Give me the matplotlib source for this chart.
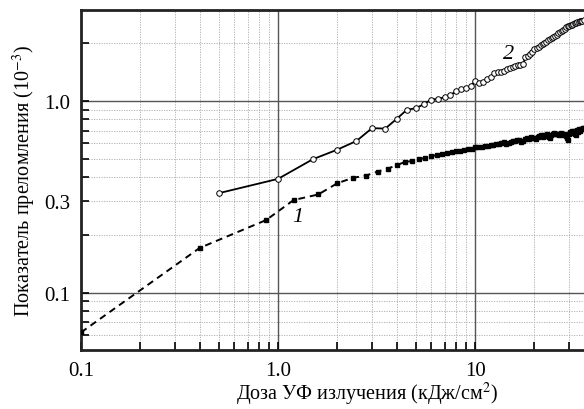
import numpy as np
import matplotlib
matplotlib.use("Agg")
import matplotlib.pyplot as plt

plt.rcParams['font.family'] = ['Liberation Serif', 'DejaVu Serif']
plt.rcParams['mathtext.fontset'] = 'stix'

# кривая 1 (сплошные квадраты, штриховая линия)
doza1 = [0.1, 0.4, 0.87, 1.2, 1.6, 2.0, 2.4, 2.8, 3.2, 3.6, 4.0, 4.4, 4.8, 5.2,
         5.6, 6.0, 6.4, 6.8, 7.2, 7.6, 8.0, 8.4, 8.8, 9.2, 9.6, 10.0, 10.4,
         10.8, 11.2, 11.6, 12.0, 12.4, 12.8, 13.2, 13.6, 14.0, 14.4, 14.8,
         15.2, 15.6, 16.0, 16.4, 16.8, 17.2, 17.6, 18.0, 18.4, 18.8, 19.2,
         19.6, 20.0, 20.4, 20.8, 21.2, 21.6, 22.0, 22.4, 22.8, 23.2, 23.6,
         24.0, 24.4, 24.8, 25.2, 25.6, 26.0, 26.4, 26.8, 27.2, 27.6, 28.0,
         28.4, 28.8, 29.2, 29.6, 30.0, 30.4, 30.8, 31.2, 31.6, 32.0, 32.4,
         32.8, 33.2, 33.6, 34.0, 34.4, 34.8, 35.2, 35.6]
pokaz1 = [0.062, 0.171, 0.239, 0.304, 0.325, 0.372, 0.397, 0.408, 0.428, 0.443,
          0.462, 0.480, 0.486, 0.497, 0.504, 0.513, 0.523, 0.528, 0.532, 0.540,
          0.546, 0.549, 0.553, 0.558, 0.564, 0.572, 0.575, 0.576, 0.580, 0.583,
          0.588, 0.591, 0.594, 0.597, 0.600, 0.608, 0.598, 0.603, 0.612, 0.620,
          0.618, 0.625, 0.628, 0.612, 0.620, 0.632, 0.640, 0.636, 0.645, 0.638,
          0.642, 0.630, 0.648, 0.655, 0.660, 0.650, 0.663, 0.658, 0.668, 0.645,
          0.640, 0.662, 0.672, 0.680, 0.676, 0.668, 0.672, 0.665, 0.678, 0.670,
          0.662, 0.668, 0.655, 0.640, 0.622, 0.672, 0.690, 0.680, 0.700, 0.695,
          0.672, 0.665, 0.705, 0.690, 0.710, 0.700, 0.715, 0.712, 0.718, 0.722]

# кривая 2 (светлые кружки, сплошная линия)
doza2 = [0.5, 1.0, 1.5, 2.0, 2.5, 3.0, 3.5, 4.0, 4.5, 5.0, 5.5, 6.0, 6.5, 7.0,
         7.5, 8.0, 8.5, 9.0, 9.5, 10.0, 10.5, 11.0, 11.5, 12.0, 12.5, 13.0,
         13.5, 14.0, 14.5, 15.0, 15.5, 16.0, 16.5, 17.0, 17.5, 18.0, 18.5,
         19.0, 19.5, 20.0, 20.5, 21.0, 21.5, 22.0, 22.5, 23.0, 23.5, 24.0,
         24.5, 25.0, 25.5, 26.0, 26.5, 27.0, 27.5, 28.0, 28.5, 29.0, 29.5,
         30.0, 30.5, 31.0, 31.5, 32.0, 32.5, 33.0, 33.5, 34.0, 34.5, 35.0, 35.5]
pokaz2 = [0.330, 0.392, 0.496, 0.557, 0.618, 0.721, 0.717, 0.806, 0.898, 0.916,
          0.961, 1.016, 1.024, 1.045, 1.075, 1.12, 1.155, 1.17, 1.19, 1.276,
          1.236, 1.26, 1.30, 1.33, 1.40, 1.41, 1.42, 1.44, 1.47, 1.49, 1.50,
          1.52, 1.53, 1.54, 1.55, 1.69, 1.71, 1.75, 1.79, 1.86, 1.88, 1.92,
          1.95, 1.98, 2.00, 2.04, 2.07, 2.11, 2.13, 2.16, 2.19, 2.22, 2.25,
          2.28, 2.31, 2.35, 2.38, 2.42, 2.45, 2.47, 2.49, 2.50, 2.52, 2.54,
          2.55, 2.57, 2.58, 2.60, 2.61, 2.62, 2.63]

xticks = [0.1, 1.0, 10]
xticklabels = ['0.1', '1.0', '10']
yticks = [0.1, 0.3, 1.0]
yticklabels = ['0.1', '0.3', '1.0']

fig = plt.figure(figsize=(5.84, 4.10), dpi=100)
# ось выходит за правый край рисунка (как в обрезанном оригинале)
ax = fig.add_axes([0.1387, 0.1439, 0.9795, 0.8293])
ax.set_xscale('log')
ax.set_yscale('log')

# сетка
xminor = [k * 10.0 ** p for p in (-1, 0, 1) for k in range(2, 10)]
yminor = [k * 10.0 ** p for p in (-2, -1, 0) for k in range(2, 10)]
for v in xminor:
    ax.axvline(v, color='#aaaaaa', lw=0.6, ls=(0, (1.5, 1.5)), zorder=0)
for v in yminor:
    ax.axhline(v, color='#aaaaaa', lw=0.6, ls=(0, (1.5, 1.5)), zorder=0)
for v in (1.0, 10.0):
    ax.axvline(v, color='#555555', lw=1.0, zorder=0)
for v in (0.1, 1.0):
    ax.axhline(v, color='#555555', lw=1.0, zorder=0)

ax.plot(doza1, pokaz1, color='black', lw=1.4, ls=(0, (3.5, 2.5)),
        marker='s', ms=3.2, mfc='black', mec='black', zorder=3)
ax.plot(doza2, pokaz2, color='black', lw=1.3,
        marker='o', ms=4.0, mfc='white', mec='black', mew=0.7, zorder=4)

ax.text(1.26, 0.248, '1', fontsize=16, style='italic', ha='center', va='center')
ax.text(14.7, 1.76, '2', fontsize=16, style='italic', ha='center', va='center')

ax.set_xticks(xticks)
ax.set_xticklabels(xticklabels)
ax.set_yticks(yticks)
ax.set_yticklabels(yticklabels)
ax.set_xticks(xminor, minor=True)
ax.set_yticks(yminor, minor=True)
ax.xaxis.set_minor_formatter(matplotlib.ticker.NullFormatter())
ax.yaxis.set_minor_formatter(matplotlib.ticker.NullFormatter())
ax.tick_params(which='both', direction='in', length=6, width=1.2,
               labelsize=15, top=False, right=False)
ax.tick_params(axis='x', pad=8)
ax.tick_params(axis='y', pad=8)

ax.set_xlim(0.1, 80)
ax.set_ylim(0.0502, 2.98)

for s in ('left', 'bottom', 'top'):
    ax.spines[s].set_linewidth(2)
    ax.spines[s].set_color('#222222')
ax.spines['right'].set_visible(False)

ax.set_xlabel('Доза УФ излучения (кДж/см$^2$)', fontsize=14.5, labelpad=0)
ax.set_ylabel('Показатель преломления (10$^{-3}$)', fontsize=14.5, labelpad=4)

fig.savefig('out.png', dpi=100)
